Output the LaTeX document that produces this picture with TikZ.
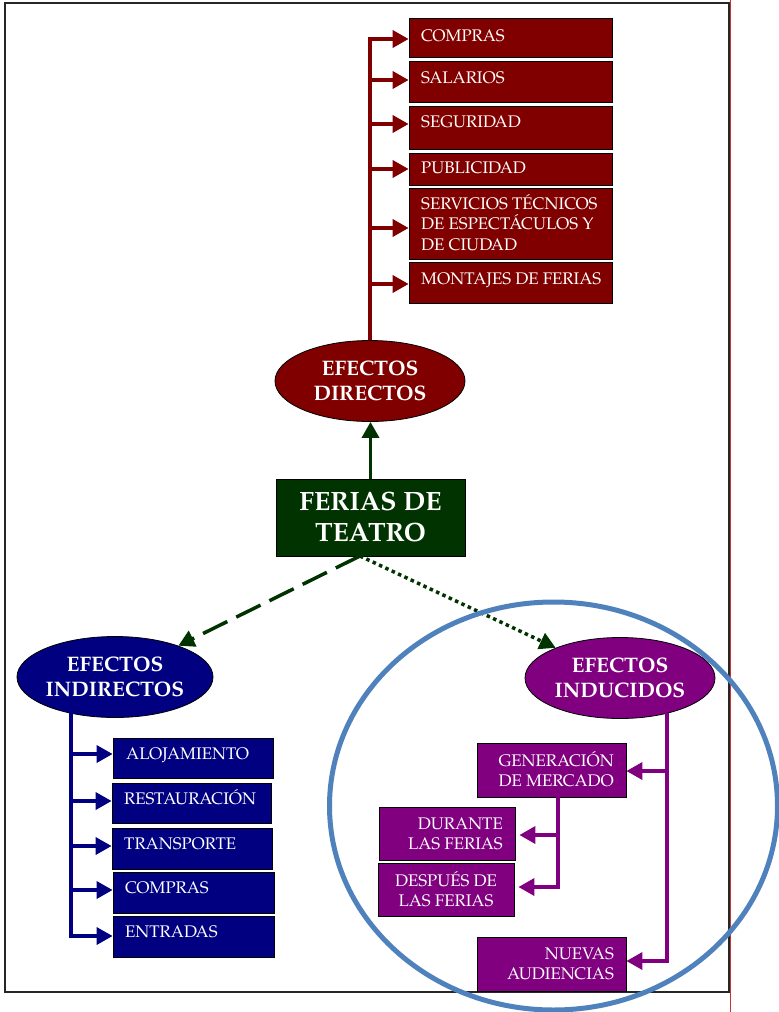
\documentclass[tikz,border=0pt]{standalone}
\usepackage{fontspec}
\setmainfont{TeX Gyre Pagella}
\usetikzlibrary{arrows.meta,shapes.geometric,fit}
\definecolor{dred}{RGB}{128,0,0}
\definecolor{navyb}{RGB}{0,0,128}
\definecolor{purp}{RGB}{128,0,128}
\definecolor{dgreen}{RGB}{0,51,0}
\definecolor{circblue}{RGB}{79,129,189}
\definecolor{framered}{RGB}{205,50,50}
\newcommand{\tstr}{\rule{0pt}{16pt}}
\newcommand{\bigstr}{\rule{0pt}{26pt}}
\begin{document}
\begin{tikzpicture}[x=1pt,y=-1pt,
  boxbase/.style={draw=black, line width=0.8pt, inner sep=0pt},
  dbox/.style={boxbase, fill=dred},
  ibox/.style={boxbase, fill=navyb},
  pbox/.style={boxbase, fill=purp},
  btext/.style={text=white, inner sep=0pt, font=\fontsize{16.8}{20.5}\selectfont},
  ltext/.style={btext, anchor=north west, align=left},
  rtext/.style={btext, anchor=north east, align=right},
  ctext/.style={btext, anchor=north, align=center},
  ell/.style={ellipse, draw=black, line width=0.8pt, inner sep=0pt, text=white, align=center,
    font=\bfseries\fontsize{21}{25}\selectfont, minimum width=190pt, minimum height=81pt},
  tip/.style={-{Triangle[length=16pt,width=17pt]}},
  dline/.style={draw=dred, line width=3.5pt},
  iline/.style={draw=navyb, line width=3.5pt},
  pline/.style={draw=purp, line width=3.5pt},
  gline/.style={draw=dgreen, line width=3.5pt},
]
\useasboundingbox (0,0) rectangle (779,1012);

% frame
\draw[black!85, line width=1.6pt] (5,3) rectangle (729,992);
\draw[framered, line width=0.8pt] (730.5,0) -- (730.5,1012);

% centre
\node[boxbase, fill=dgreen, fit={(276,479) (465,556)}] (fer) {};
\node[text=white, inner sep=0pt, anchor=north, align=center,
  font=\bfseries\fontsize{26.5}{31}\selectfont] (tfer) at (370.5,484) {\bigstr FERIAS DE\\TEATRO};

% ellipses
\node[ell, fill=dred] (dirE) at (370,381) {EFECTOS\\DIRECTOS};
\node[ell, fill=navyb] (indE) at (115,677) {EFECTOS\\INDIRECTOS};
\node[ell, fill=purp] (incE) at (620,678) {EFECTOS\\INDUCIDOS};

% direct boxes
\node[dbox, fit={(409,18) (612,57)}] (d1) {};
\node[dbox, fit={(409,61) (612,102)}] (d2) {};
\node[dbox, fit={(409,106) (612,149)}] (d3) {};
\node[dbox, fit={(409,153) (612,185)}] (d4) {};
\node[dbox, fit={(409,188) (612,259)}] (d5) {};
\node[dbox, fit={(409,262) (612,303)}] (d6) {};
\node[ltext] (td1) at (421,25) {\tstr COMPRAS};
\node[ltext] (td2) at (421,67) {\tstr SALARIOS};
\node[ltext] (td3) at (421,111) {\tstr SEGURIDAD};
\node[ltext] (td4) at (421,157) {\tstr PUBLICIDAD};
\node[ltext] (td5) at (421,193) {\tstr SERVICIOS TÉCNICOS\\DE ESPECTÁCULOS Y\\DE CIUDAD};
\node[ltext] (td6) at (421,268) {\tstr MONTAJES DE FERIAS};

% indirect boxes
\node[ibox, fit={(113,738) (273,778)}] (i1) {};
\node[ibox, fit={(112,783) (271,823)}] (i2) {};
\node[ibox, fit={(112,828) (272,869)}] (i3) {};
\node[ibox, fit={(113,872) (274,913)}] (i4) {};
\node[ibox, fit={(113,916) (274,957)}] (i5) {};
\node[ltext] (ti1) at (126,743) {\tstr ALOJAMIENTO};
\node[ltext] (ti2) at (124,788) {\tstr RESTAURACIÓN};
\node[ltext] (ti3) at (124,833) {\tstr TRANSPORTE};
\node[ltext] (ti4) at (125,877) {\tstr COMPRAS};
\node[ltext] (ti5) at (125,921) {\tstr ENTRADAS};

% induced boxes
\node[pbox, fit={(477,743) (626,797)}] (gen) {};
\node[pbox, fit={(379,807) (515,860)}] (dur) {};
\node[pbox, fit={(378,863) (514,916)}] (dsp) {};
\node[pbox, fit={(477,937) (626,991)}] (nue) {};
\node[rtext] (tgen) at (614,750) {\tstr GENERACIÓN\\DE MERCADO};
\node[rtext] (tdur) at (503,813) {\tstr DURANTE\\LAS FERIAS};
\node[ctext] (tdsp) at (446,870) {\tstr DESPUÉS DE\\LAS FERIAS};
\node[rtext] (tnue) at (614,943) {\tstr NUEVAS\\AUDIENCIAS};

% direct connectors
\coordinate (da1) at (370,39);
\coordinate (da2) at (370,80);
\coordinate (da3) at (370,124);
\coordinate (da4) at (370,169);
\coordinate (da5) at (370,228);
\coordinate (da6) at (370,284);
\draw[dline, tip] (dirE.north) -- (da1) -- (da1 -| d1.west);
\draw[dline, tip] (da2) -- (da2 -| d2.west);
\draw[dline, tip] (da3) -- (da3 -| d3.west);
\draw[dline, tip] (da4) -- (da4 -| d4.west);
\draw[dline, tip] (da5) -- (da5 -| d5.west);
\draw[dline, tip] (da6) -- (da6 -| d6.west);

% centre connectors
\draw[gline, tip] (fer.north) -- (fer.north |- dirE.south);
\coordinate (fs) at (360,556);
\draw[gline, dash pattern=on 27pt off 10pt, tip] (fs) -- (indE);
\draw[gline, dash pattern=on 3.5pt off 3.5pt, tip] (fs) -- (incE);

% indirect connectors
\coordinate (it0) at (71,712);
\coordinate (ia1) at (71,754);
\coordinate (ia2) at (71,801);
\coordinate (ia3) at (71,846);
\coordinate (ia4) at (71,890);
\coordinate (ia5) at (71,936);
\draw[iline, tip] (it0) -- (ia5) -- (ia5 -| i5.west);
\draw[iline, tip] (ia1) -- (ia1 -| i1.west);
\draw[iline, tip] (ia2) -- (ia2 -| i2.west);
\draw[iline, tip] (ia3) -- (ia3 -| i3.west);
\draw[iline, tip] (ia4) -- (ia4 -| i4.west);

% induced connectors
\coordinate (pt0) at (667,713);
\coordinate (pa1) at (667,771);
\coordinate (pa2) at (667,961);
\draw[pline, tip] (pt0) -- (pa2) -- (pa2 -| nue.east);
\draw[pline, tip] (pa1) -- (pa1 -| gen.east);
\coordinate (ps1) at (558,835);
\coordinate (ps2) at (558,887);
\draw[pline, tip, shorten >=4pt] (gen.south -| ps2) -- (ps2) -- (ps2 -| dsp.east);
\draw[pline, tip, shorten >=4pt] (ps1) -- (ps1 -| dur.east);

% highlight circle
\draw[circblue, line width=5pt] (553.5,806) ellipse [x radius=224pt, y radius=204pt];
\end{tikzpicture}
\end{document}
